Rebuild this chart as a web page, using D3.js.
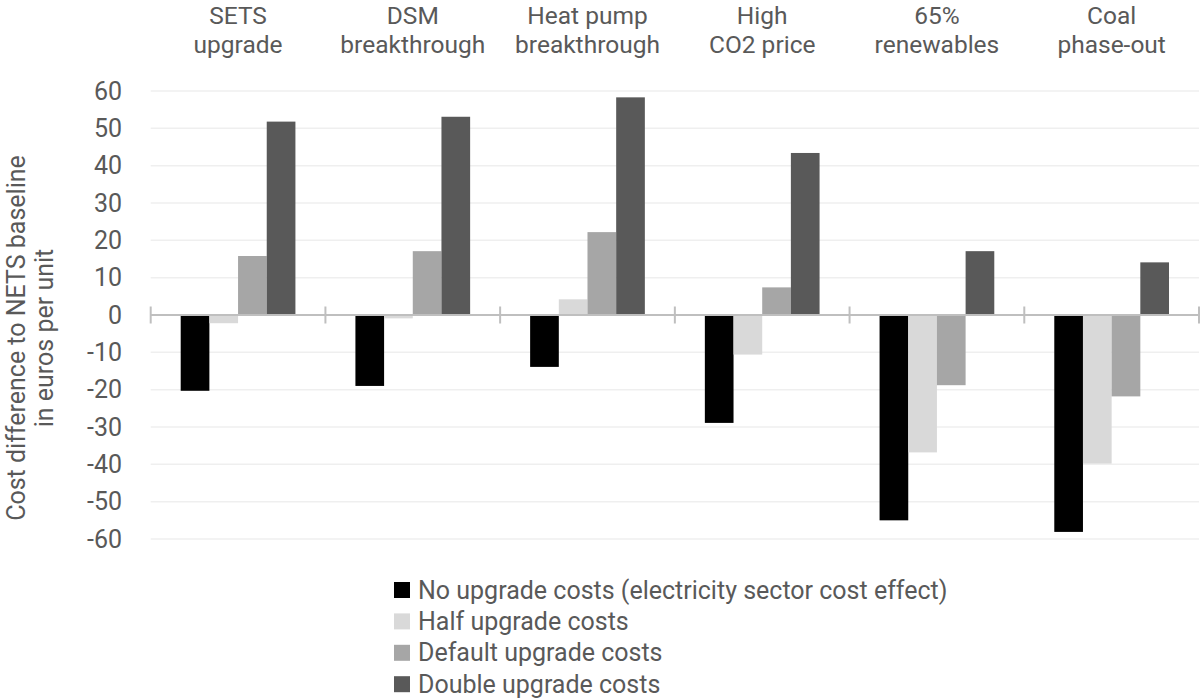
<!DOCTYPE html>
<head>
<meta charset="utf-8">
<script src="https://d3js.org/d3.v7.min.js"></script>
<style>
  body { margin: 0; background: #fff; }
  svg { display: block; }
  text { font-family: Roboto, "Open Sans", sans-serif; fill: #595959; }
</style>
</head>
<body>
<script>
  // scenario labels (two lines each)
  const categories = [
    ["SETS", "upgrade"],
    ["DSM", "breakthrough"],
    ["Heat pump", "breakthrough"],
    ["High", "CO2 price"],
    ["65%", "renewables"],
    ["Coal", "phase-out"]
  ];
  const seriesNames = [
    "No upgrade costs (electricity sector cost effect)",
    "Half upgrade costs",
    "Default upgrade costs",
    "Double upgrade costs"
  ];
  const seriesColors = ["#000000", "#d9d9d9", "#a6a6a6", "#595959"];

  const noUpgrade      = [-20.3, -19.0, -13.9, -28.9, -55.0, -58.1];
  const halfUpgrade    = [-2.2, -0.9, 4.2, -10.6, -36.8, -39.8];
  const defaultUpgrade = [15.8, 17.1, 22.2, 7.4, -18.8, -21.8];
  const doubleUpgrade  = [51.8, 53.1, 58.3, 43.4, 17.1, 14.1];

  const yTicks = [60, 50, 40, 30, 20, 10, 0, -10, -20, -30, -40, -50, -60];
  const yTitle = ["Cost difference to NETS baseline", "in euros per unit"];

  const W = 1201, H = 698;
  const svg = d3.select("body").append("svg").attr("width", W).attr("height", H);

  const allSeries = [noUpgrade, halfUpgrade, defaultUpgrade, doubleUpgrade];

  const x0 = d3.scaleBand()
    .domain(d3.range(categories.length))
    .range([150.7, 1199])
    .padding(0);
  const x1 = d3.scaleBand()
    .domain(d3.range(seriesNames.length))
    .range([30, x0.bandwidth() - 30])
    .padding(0);
  const y = d3.scaleLinear().domain([-60, 60]).range([539, 91]);

  // gridlines
  svg.append("g")
    .selectAll("line")
    .data(yTicks.filter(d => d !== 0))
    .enter().append("line")
    .attr("x1", x0.range()[0])
    .attr("x2", x0.range()[1])
    .attr("y1", d => y(d))
    .attr("y2", d => y(d))
    .attr("stroke", "#efefef")
    .attr("stroke-width", 1.5);

  // y tick labels
  svg.append("g")
    .selectAll("text")
    .data(yTicks)
    .enter().append("text")
    .attr("x", 122)
    .attr("y", d => y(d))
    .attr("dy", "0.35em")
    .attr("text-anchor", "end")
    .attr("font-size", 25)
    .text(d => d);

  // bars
  const groups = svg.append("g")
    .selectAll("g")
    .data(categories.map((c, i) => i))
    .enter().append("g")
    .attr("transform", i => `translate(${x0(i)},0)`);

  groups.selectAll("rect")
    .data(i => allSeries.map((s, k) => ({ k: k, v: s[i] })))
    .enter().append("rect")
    .attr("x", d => x1(d.k))
    .attr("width", x1.bandwidth())
    .attr("y", d => y(Math.max(0, d.v)))
    .attr("height", d => Math.abs(y(d.v) - y(0)))
    .attr("fill", d => seriesColors[d.k]);

  // zero axis with category dividers
  const axis = svg.append("g").attr("transform", `translate(0,${y(0)})`);
  axis.append("line")
    .attr("x1", x0.range()[0])
    .attr("x2", x0.range()[1])
    .attr("stroke", "#bfbfbf")
    .attr("stroke-width", 2);
  axis.selectAll(".tick")
    .data(d3.range(categories.length + 1))
    .enter().append("line")
    .attr("x1", i => x0.range()[0] + i * x0.bandwidth())
    .attr("x2", i => x0.range()[0] + i * x0.bandwidth())
    .attr("y1", -8.5)
    .attr("y2", 8.5)
    .attr("stroke", "#bfbfbf")
    .attr("stroke-width", 2);

  // category labels on top
  const cat = svg.append("g")
    .selectAll("text")
    .data(categories)
    .enter().append("text")
    .attr("text-anchor", "middle")
    .attr("font-size", 24.5)
    .attr("transform", (d, i) => `translate(${x0(i) + x0.bandwidth() / 2},0)`);
  cat.append("tspan").attr("x", 0).attr("y", 23.5).text(d => d[0]);
  cat.append("tspan").attr("x", 0).attr("y", 52.5).text(d => d[1]);

  // y axis title
  svg.append("g")
    .selectAll("text")
    .data(yTitle)
    .enter().append("text")
    .attr("text-anchor", "middle")
    .attr("font-size", 25)
    .attr("transform", (d, i) => `translate(${25 + i * 28},338) rotate(-90)`)
    .text(d => d);

  // legend
  const legend = svg.append("g").attr("transform", "translate(394,590)");
  const item = legend.selectAll("g")
    .data(seriesNames)
    .enter().append("g")
    .attr("transform", (d, i) => `translate(0,${i * 31.4})`);
  item.append("rect")
    .attr("x", 0)
    .attr("y", -8)
    .attr("width", 16)
    .attr("height", 16)
    .attr("fill", (d, i) => seriesColors[i]);
  item.append("text")
    .attr("x", 24)
    .attr("y", 8.5)
    .attr("font-size", 25)
    .text(d => d);
</script>
</body>
